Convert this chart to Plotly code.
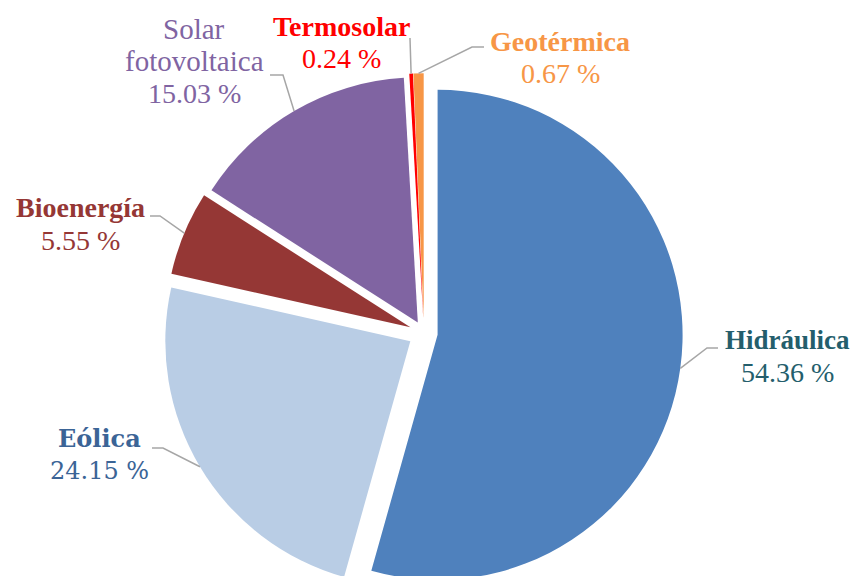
import math
import plotly.graph_objects as go

# ---------------- data ----------------
categories = ["Hidráulica", "Eólica", "Bioenergía", "Solar fotovoltaica", "Termosolar", "Geotérmica"]
shares = [54.36, 24.15, 5.55, 15.03, 0.24, 0.67]
name_lines = [["Hidráulica"], ["Eólica"], ["Bioenergía"], ["Solar", "fotovoltaica"], ["Termosolar"], ["Geotérmica"]]

# ---------------- style ----------------
slice_colors = ["#4F81BD", "#B9CDE5", "#953735", "#8064A2", "#FF0000", "#F79646"]
label_colors = ["#245E6C", "#3B6496", "#953735", "#8064A2", "#FF0000", "#F79646"]
name_bold = [True, True, True, False, True, True]
label_fonts = ["Liberation Serif", "DejaVu Serif", "Liberation Serif", "Liberation Serif", "Liberation Serif", "Liberation Serif"]
label_sizes = [27, 24, 28, 29, 28, 28]
pulls = [0.056, 0.065, 0.06, 0.05, 0.06, 0.06]

OFF = 8                            # page body margin
W, H = 852, 600
CX, CY, R = 424, 333, 245          # pie centre / radius in window pixels
LINE_STEP = 32.5
# first-line centre of each label block (window pixels)
label_xy = [(787, 340), (99, 438), (80, 208), (194, 29), (341, 26), (560, 41)]
# leader line start and elbow (window pixels)
leader_pts = [((718, 348), (707, 348)), ((152, 448), (163, 448)), ((150, 216), (160, 216)),
              ((270, 75), (283, 75)), ((410, 38), (410, 38)), ((484, 47), (472, 47))]


def px(x):
    return (x - OFF) / W


def py(y):
    return 1 - (y - OFF) / H


maxpull = max(pulls)
half = R * (1 + maxpull)

fig = go.Figure(go.Pie(
    labels=categories,
    values=shares,
    sort=False,
    direction="clockwise",
    rotation=0,
    pull=pulls,
    marker=dict(colors=slice_colors, line=dict(width=0)),
    textinfo="none",
    hoverinfo="label+percent",
    showlegend=False,
    domain=dict(x=[px(CX - half), px(CX + half)], y=[py(CY + half), py(CY - half)]),
))

annotations = []
shapes = []
total = sum(shares)
cum = 0.0
for i, v in enumerate(shares):
    mid = (cum + v / 2) / total * 2 * math.pi
    cum += v
    ux, uy = math.sin(mid), -math.cos(mid)
    cx = CX + pulls[i] * R * ux
    cy = CY + pulls[i] * R * uy
    ex, ey = cx + R * ux, cy + R * uy
    (sx, sy), (bx, by) = leader_pts[i]
    shapes.append(dict(type="path", xref="paper", yref="paper",
                       path=f"M {px(sx)},{py(sy)} L {px(bx)},{py(by)} L {px(ex)},{py(ey)}",
                       line=dict(color="#A6A6A6", width=1.5)))
    lx, ly = label_xy[i]
    lines = [(f"<b>{t}</b>" if name_bold[i] else t) for t in name_lines[i]] + [f"{v:.2f} %"]
    for k, t in enumerate(lines):
        size = label_sizes[i] if k < len(name_lines[i]) else (24 if i == 1 else 28)
        annotations.append(dict(x=px(lx), y=py(ly + k * LINE_STEP), xref="paper", yref="paper",
                                text=t, showarrow=False, xanchor="center", yanchor="middle",
                                font=dict(family=label_fonts[i], size=size, color=label_colors[i])))

fig.update_layout(
    width=W, height=H,
    margin=dict(l=0, r=0, t=0, b=0),
    paper_bgcolor="white",
    plot_bgcolor="white",
    annotations=annotations,
    shapes=shapes,
)

fig.write_html("out.html")
